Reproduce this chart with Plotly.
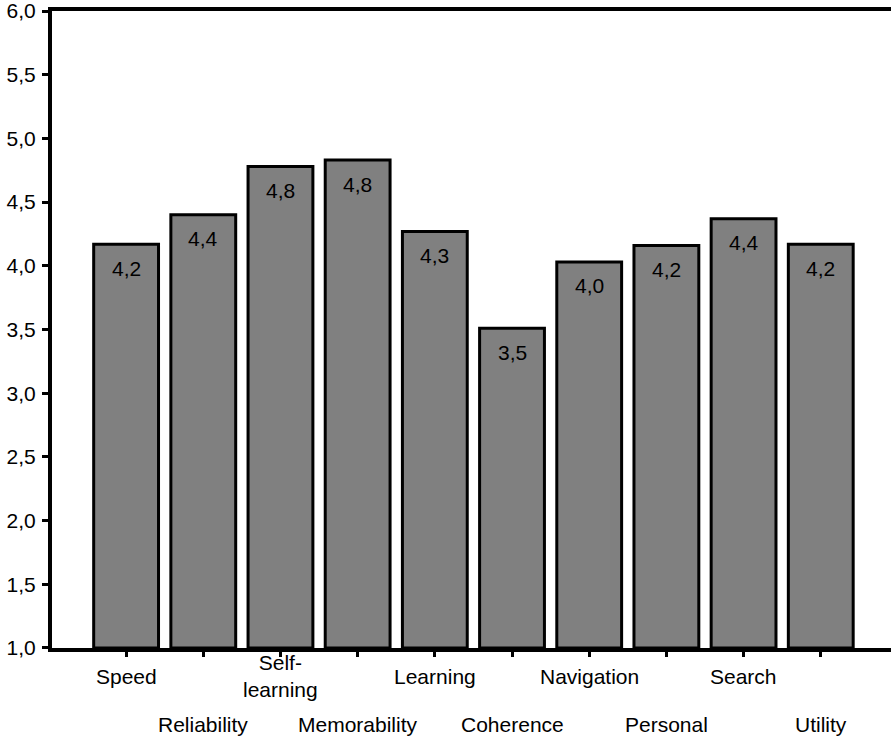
import plotly.graph_objects as go

# Mean ratings per usability criterion
categories = ["Speed", "Reliability", "Self-learning", "Memorability", "Learning",
              "Coherence", "Navigation", "Personal", "Search", "Utility"]
tick_labels = ["Speed", "Reliability", "Self-<br>learning", "Memorability", "Learning",
               "Coherence", "Navigation", "Personal", "Search", "Utility"]
values = [4.17, 4.40, 4.78, 4.83, 4.27, 3.51, 4.03, 4.16, 4.37, 4.17]
y_ticks = [1.0, 1.5, 2.0, 2.5, 3.0, 3.5, 4.0, 4.5, 5.0, 5.5, 6.0]

FONT = "Liberation Sans, Arial, sans-serif"
FS = 21

fig = go.Figure()
fig.add_trace(go.Bar(
    x=categories,
    y=[v - 1.0 for v in values],
    base=1.0,
    width=0.84,
    marker=dict(color="#808080", line=dict(color="black", width=3)),
    hoverinfo="skip",
))

annotations = []
# value labels inside the top of each bar
for cat, v in zip(categories, values):
    annotations.append(dict(
        x=cat, y=v, xref="x", yref="y", yshift=-24,
        text=f"{v:.1f}".replace(".", ","),
        showarrow=False, yanchor="middle",
        font=dict(family=FONT, size=FS, color="black"),
    ))
# category labels on two staggered rows
for i, (cat, lab) in enumerate(zip(categories, tick_labels)):
    annotations.append(dict(
        x=cat, y=0, xref="x", yref="paper",
        yshift=-28 if i % 2 == 0 else -76,
        text=lab, showarrow=False, yanchor="middle",
        font=dict(family=FONT, size=FS, color="black"),
    ))

fig.update_layout(
    width=891, height=738,
    margin=dict(l=52, r=0, t=11, b=90),
    paper_bgcolor="white", plot_bgcolor="white",
    separators=",.",
    showlegend=False,
    bargap=0.16,
    annotations=annotations,
    font=dict(family=FONT, size=FS, color="black"),
)
fig.update_xaxes(
    type="category",
    range=[-0.96, 9.91],
    showticklabels=False,
    ticks="outside", ticklen=5, tickwidth=3, tickcolor="black",
    showline=True, linewidth=4, linecolor="black", mirror=True,
    showgrid=False, zeroline=False,
)
fig.update_yaxes(
    range=[0.9995, 6.0005],
    tickvals=y_ticks,
    tickformat=".1f",
    ticks="outside", ticklen=6, tickwidth=3, tickcolor="black",
    ticklabelstandoff=2,
    ticklabeloverflow="allow",
    showline=True, linewidth=4, linecolor="black",
    showgrid=False, zeroline=False,
    tickfont=dict(family=FONT, size=FS, color="black"),
)

fig.write_html("out.html")
